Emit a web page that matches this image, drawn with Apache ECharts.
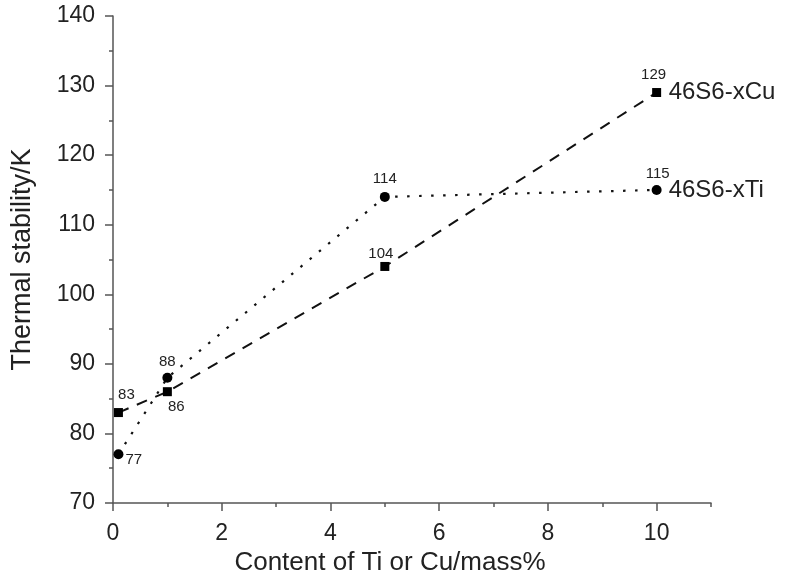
<!DOCTYPE html>
<html>
<head>
<meta charset="utf-8">
<script src="https://cdn.jsdelivr.net/npm/echarts@6/dist/echarts.min.js"></script>
<style>html,body{margin:0;padding:0;background:#fff;}#c{width:787px;height:584px;}</style>
</head>
<body>
<div id="c"></div>
<script>
const cuX = [0.1, 1, 5, 10];
const cuY = [83, 86, 104, 129];
const tiX = [0.1, 1, 5, 10];
const tiY = [77, 88, 114, 115];
const xMajorTicks = [0, 2, 4, 6, 8, 10];
const seriesNames = ['46S6-xCu', '46S6-xTi'];

const FONT = '"Liberation Sans", Arial, Helvetica, sans-serif';
const TXT = '#222';
const AX = '#555';

const cuLabelOffsets = [[8, 0], [9, -3], [-4, 5], [-3, 0]];
const cuLabelPos = ['top', 'bottom', 'top', 'top'];
const tiLabelOffsets = [[-4, 6], [0, 3], [0, 0], [1, 2]];
const tiLabelPos = ['right', 'top', 'top', 'top'];

function build(xs, ys, pos, offs) {
  return xs.map((x, i) => ({
    value: [x, ys[i]],
    label: { position: pos[i], offset: offs[i] }
  }));
}

const chart = echarts.init(document.getElementById('c'));
chart.setOption({
  animation: false,
  backgroundColor: '#fff',
  grid: { left: 113, right: 76, top: 16, bottom: 81, containLabel: false },
  xAxis: [{
    type: 'value', min: 0, max: 11, interval: 1,
    axisLine: { lineStyle: { color: AX, width: 1.5 } },
    axisTick: { show: true, length: 4, lineStyle: { color: AX, width: 1.5 } },
    axisLabel: { show: false },
    splitLine: { show: false }
  }, {
    type: 'value', min: 0, max: 11, interval: 2, position: 'bottom',
    axisLine: { show: false },
    axisTick: { show: true, length: 8, customValues: xMajorTicks, lineStyle: { color: AX, width: 1.5 } },
    axisLabel: { show: true, customValues: xMajorTicks, fontSize: 23, color: TXT, fontFamily: FONT, margin: 19 },
    splitLine: { show: false },
    name: 'Content of Ti or Cu/mass%', nameLocation: 'middle', nameGap: 42,
    nameTextStyle: { fontSize: 26, color: TXT, fontFamily: FONT, padding: [0, 44, 0, 0] }
  }],
  yAxis: {
    type: 'value', min: 70, max: 140, interval: 10,
    axisLine: { show: true, lineStyle: { color: AX, width: 1.5 } },
    axisTick: { show: true, length: 8, lineStyle: { color: AX, width: 1.5 } },
    minorTick: { show: true, splitNumber: 2, length: 4, lineStyle: { color: AX, width: 1.5 } },
    axisLabel: { fontSize: 23, color: TXT, fontFamily: FONT, margin: 18 },
    splitLine: { show: false },
    name: 'Thermal stability/K', nameLocation: 'middle', nameGap: 77,
    nameTextStyle: { fontSize: 27, color: TXT, fontFamily: FONT }
  },
  series: [{
    name: seriesNames[0], type: 'line', xAxisIndex: 0,
    data: build(cuX, cuY, cuLabelPos, cuLabelOffsets),
    symbol: 'rect', symbolSize: 9,
    itemStyle: { color: '#000' },
    lineStyle: { color: '#111', width: 2, type: [11, 9] },
    label: { show: true, fontSize: 15, color: TXT, fontFamily: FONT, distance: 6 },
    endLabel: { show: true, formatter: seriesNames[0], fontSize: 24, color: TXT, fontFamily: FONT, distance: 12 }
  }, {
    name: seriesNames[1], type: 'line', xAxisIndex: 0,
    data: build(tiX, tiY, tiLabelPos, tiLabelOffsets),
    symbol: 'circle', symbolSize: 10,
    itemStyle: { color: '#000' },
    lineStyle: { color: '#111', width: 2.2, type: [2.5, 9.5] },
    label: { show: true, fontSize: 15, color: TXT, fontFamily: FONT, distance: 6 },
    endLabel: { show: true, formatter: seriesNames[1], fontSize: 24, color: TXT, fontFamily: FONT, distance: 12 }
  }]
});
</script>
</body>
</html>
